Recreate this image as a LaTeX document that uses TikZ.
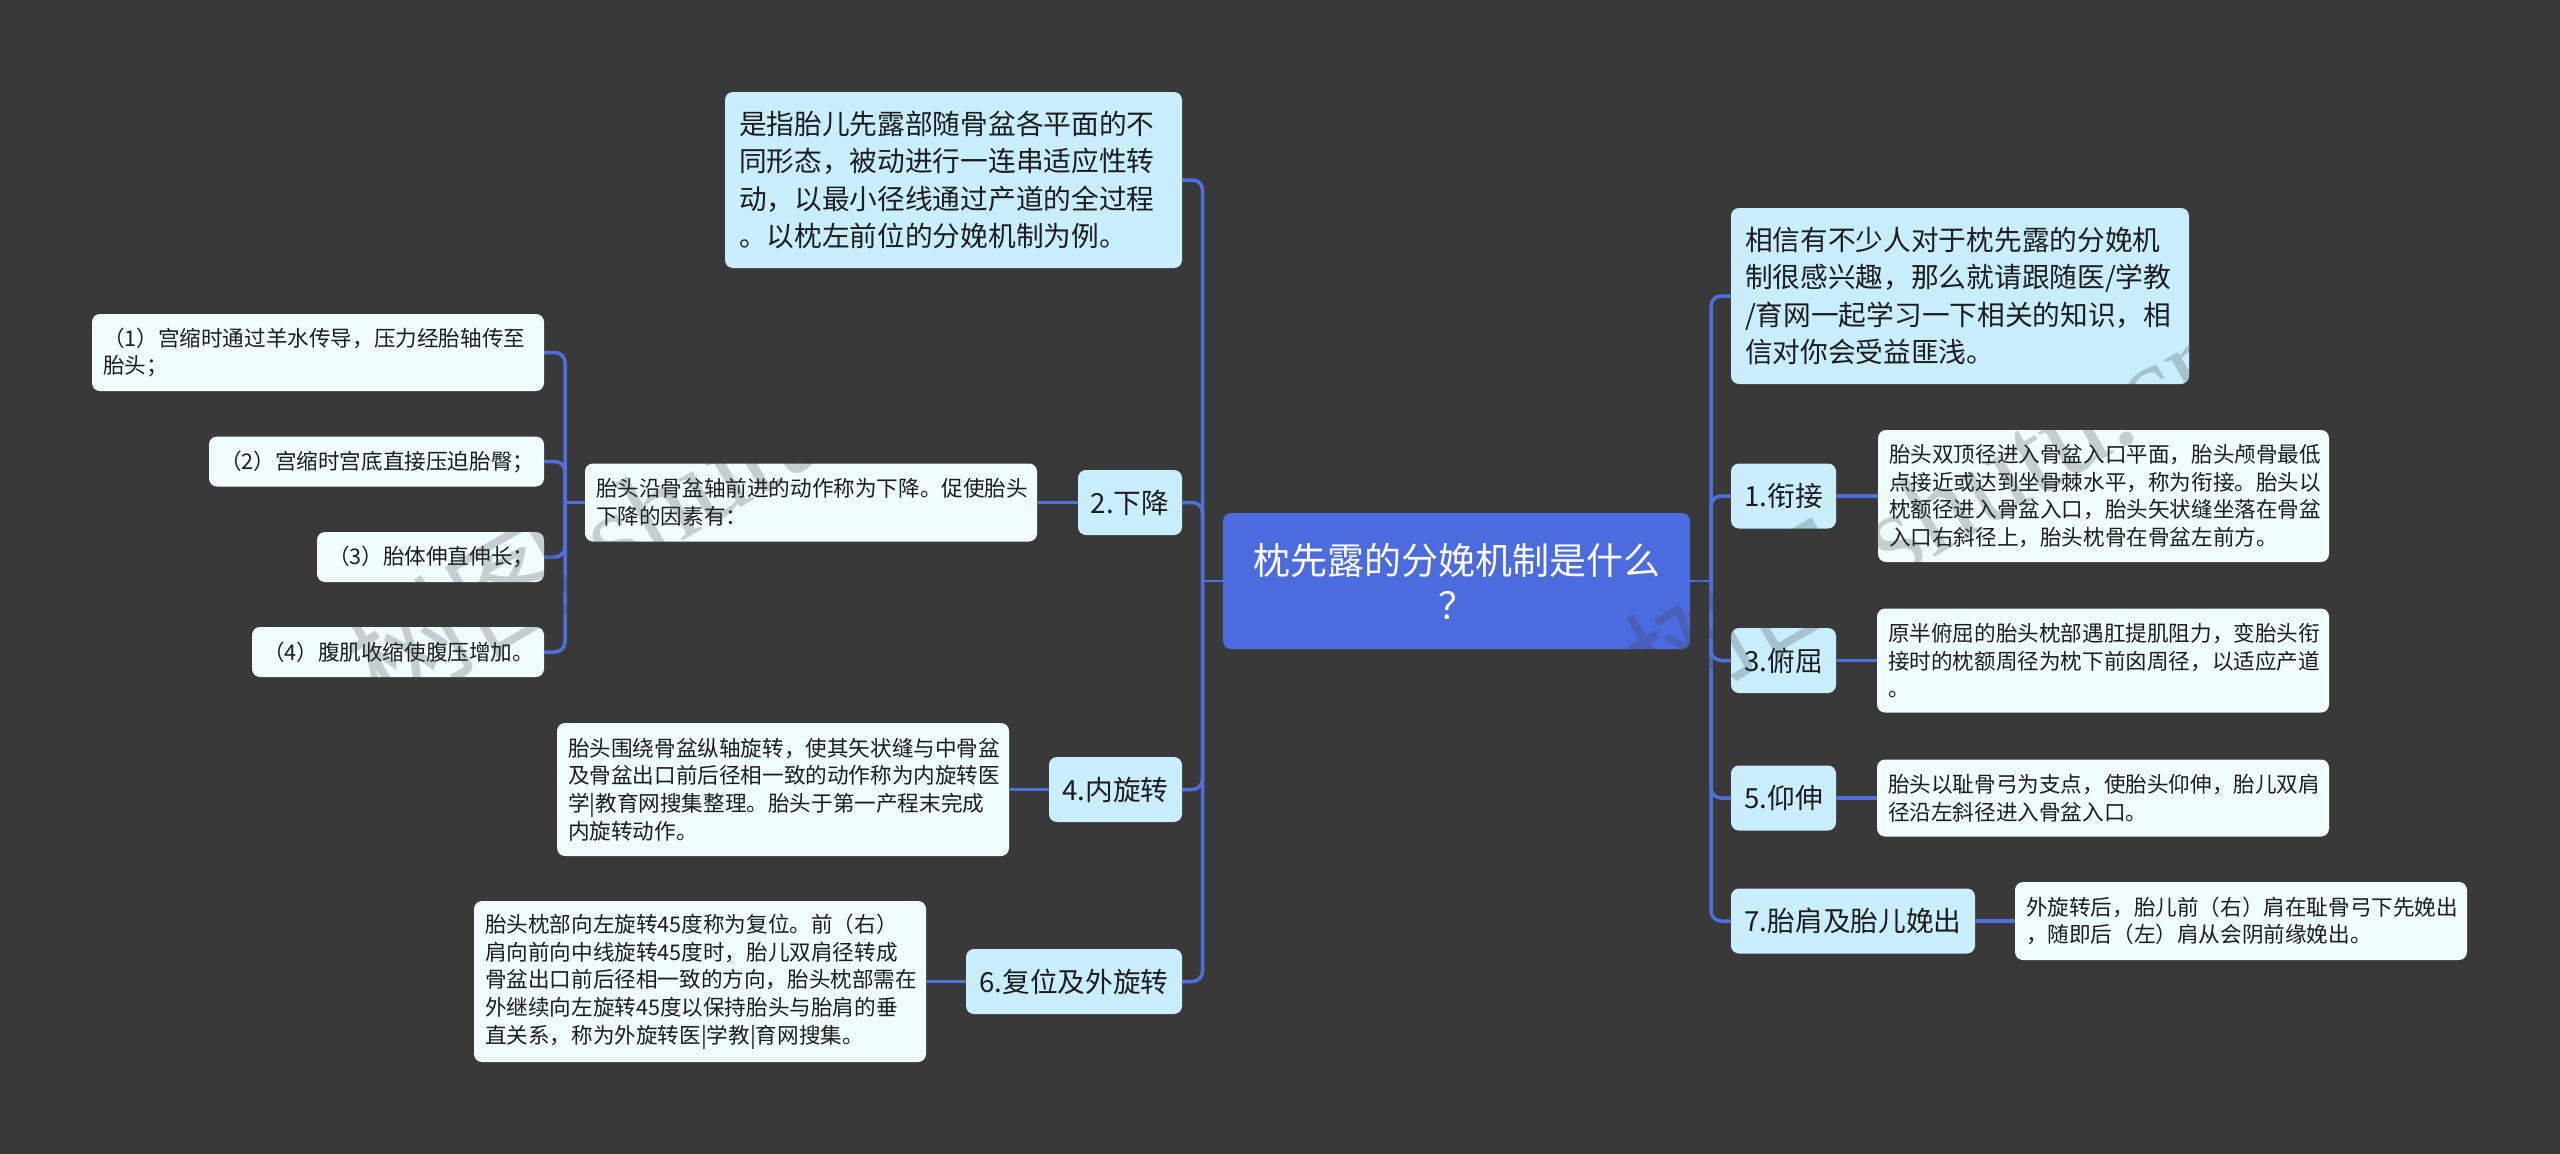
\documentclass[tikz,border=0pt]{standalone}
\usepackage{fontspec}
\setmainfont{Noto Sans CJK SC}
\newfontfamily\markfont{Liberation Serif}
\definecolor{pagebg}{HTML}{3A393A}
\definecolor{rootfill}{HTML}{4C6BDF}
\definecolor{topicfill}{HTML}{C8EEFF}
\definecolor{notefill}{HTML}{F0FCFF}
\definecolor{linkcol}{HTML}{4F70DC}
\definecolor{inkcol}{HTML}{1C1C1C}
\definecolor{markcol}{HTML}{3A3A3A}
\tikzset{
  rootnode/.style 2 args={fill=rootfill,text=white,rounded corners=8pt,inner sep=0pt,outer sep=0pt,align=center,
    font=\fontsize{37}{45}\selectfont,minimum width=#1pt,minimum height=#2pt},
  topic/.style 2 args={fill=topicfill,text=inkcol,rounded corners=8pt,inner sep=0pt,outer sep=0pt,align=center,
    font=\fontsize{27.7}{37.4}\selectfont,minimum width=#1pt,minimum height=#2pt},
  topiclong/.style 2 args={topic={#1}{#2},align=left,text width=#1pt-28pt},
  note/.style 2 args={fill=notefill,text=inkcol,rounded corners=8pt,inner sep=0pt,outer sep=0pt,align=left,
    font=\fontsize{21.6}{27.7}\selectfont,minimum width=#1pt,minimum height=#2pt,text width=#1pt-22pt},
  link/.style={draw=linkcol,line width=3.5pt,rounded corners=10pt},
  wmark/.style={text=markcol,opacity=0.24,rotate=30,inner sep=0pt,font=\fontsize{120}{120}\selectfont}
}
\begin{document}
\begin{tikzpicture}[x=1pt,y=-1pt]
  \path[use as bounding box,fill=pagebg] (0,0) rectangle (2560,1154);
  \node[rootnode={467}{136}] (R) at (1456.5,581) {枕先露的分娩机制是什么\\？};
  \coordinate (LT) at (1202.5,581);
  \coordinate (RT) at (1711,581);
  \node[topiclong={457}{176}] (T-0) at (953.5,180) {是指胎儿先露部随骨盆各平面的不\\同形态，被动进行一连串适应性转\\动，以最小径线通过产道的全过程\\。以枕左前位的分娩机制为例。};
  \node[topic={104}{65}] (T-2) at (1130,502.5) {2.下降};
  \node[topic={133}{65}] (T-4) at (1115.5,789.5) {4.内旋转};
  \node[topic={216}{65}] (T-6) at (1074,981.5) {6.复位及外旋转};
  \node[note={452}{78}] (N-2) at (811,502.5) {胎头沿骨盆轴前进的动作称为下降。促使胎头\\下降的因素有：};
  \node[note={452}{133}] (N-4) at (783,789.5) {胎头围绕骨盆纵轴旋转，使其矢状缝与中骨盆\\及骨盆出口前后径相一致的动作称为内旋转医\\学|教育网搜集整理。胎头于第一产程末完成\\内旋转动作。};
  \node[note={452}{161}] (N-6) at (700,981.5) {胎头枕部向左旋转45度称为复位。前（右）\\肩向前向中线旋转45度时，胎儿双肩径转成\\骨盆出口前后径相一致的方向，胎头枕部需在\\外继续向左旋转45度以保持胎头与胎肩的垂\\直关系，称为外旋转医|学教|育网搜集。};
  \coordinate (FT) at (565,502.5);
  \node[note={452}{77}] (F-1) at (318,352.5) {（1）宫缩时通过羊水传导，压力经胎轴传至\\胎头；};
  \node[note={335}{50}] (F-2) at (376.5,461.5) {（2）宫缩时宫底直接压迫胎臀；};
  \node[note={227}{50}] (F-3) at (430.5,557) {（3）胎体伸直伸长；};
  \node[note={292}{50}] (F-4) at (398,652) {（4）腹肌收缩使腹压增加。};
  \node[topiclong={458}{176}] (T-I) at (1960,296) {相信有不少人对于枕先露的分娩机\\制很感兴趣，那么就请跟随医/学教\\/育网一起学习一下相关的知识，相\\信对你会受益匪浅。};
  \node[topic={105}{65}] (T-1) at (1783.5,496) {1.衔接};
  \node[topic={105}{65}] (T-3) at (1783.5,660.5) {3.俯屈};
  \node[topic={105}{65}] (T-5) at (1783.5,798) {5.仰伸};
  \node[topic={244}{65}] (T-7) at (1853,921) {7.胎肩及胎儿娩出};
  \node[note={451}{132}] (N-1) at (2103.5,496) {胎头双顶径进入骨盆入口平面，胎头颅骨最低\\点接近或达到坐骨棘水平，称为衔接。胎头以\\枕额径进入骨盆入口，胎头矢状缝坐落在骨盆\\入口右斜径上，胎头枕骨在骨盆左前方。};
  \node[note={452}{104}] (N-3) at (2103,660.5) {原半俯屈的胎头枕部遇肛提肌阻力，变胎头衔\\接时的枕额周径为枕下前囟周径，以适应产道\\。};
  \node[note={452}{77}] (N-5) at (2103,798) {胎头以耻骨弓为支点，使胎头仰伸，胎儿双肩\\径沿左斜径进入骨盆入口。};
  \node[note={452}{78}] (N-7) at (2241,921) {外旋转后，胎儿前（右）肩在耻骨弓下先娩出\\，随即后（左）肩从会阴前缘娩出。};
  \draw[link,line width=2.5pt] (R.west) -- (LT);
  \draw[link,line width=2.5pt] (R.east) -- (RT);
  \draw[link] (T-0.east) -| (LT);
  \draw[link] (T-2.east) -| (LT);
  \draw[link] (T-4.east) -| (LT);
  \draw[link] (T-6.east) -| (LT);
  \draw[link] (T-I.west) -| (RT);
  \draw[link] (T-1.west) -| (RT);
  \draw[link] (T-3.west) -| (RT);
  \draw[link] (T-5.west) -| (RT);
  \draw[link] (T-7.west) -| (RT);
  \draw[link] (T-2) -- (N-2);
  \draw[link] (T-4) -- (N-4);
  \draw[link] (T-6) -- (N-6);
  \draw[link] (T-1) -- (N-1);
  \draw[link] (T-3) -- (N-3);
  \draw[link] (T-5) -- (N-5);
  \draw[link] (T-7) -- (N-7);
  \draw[link] (N-2.west) -- (FT);
  \draw[link] (F-1.east) -| (FT);
  \draw[link] (F-2.east) -| (FT);
  \draw[link] (F-3.east) -| (FT);
  \draw[link] (F-4.east) -| (FT);
  \node[wmark] (W-1) at (648,508) {树图 {\markfont shutu.cn}};
  \node[wmark] (W-2) at (1928,508) {树图 {\markfont shutu.cn}};
\end{tikzpicture}
\end{document}
